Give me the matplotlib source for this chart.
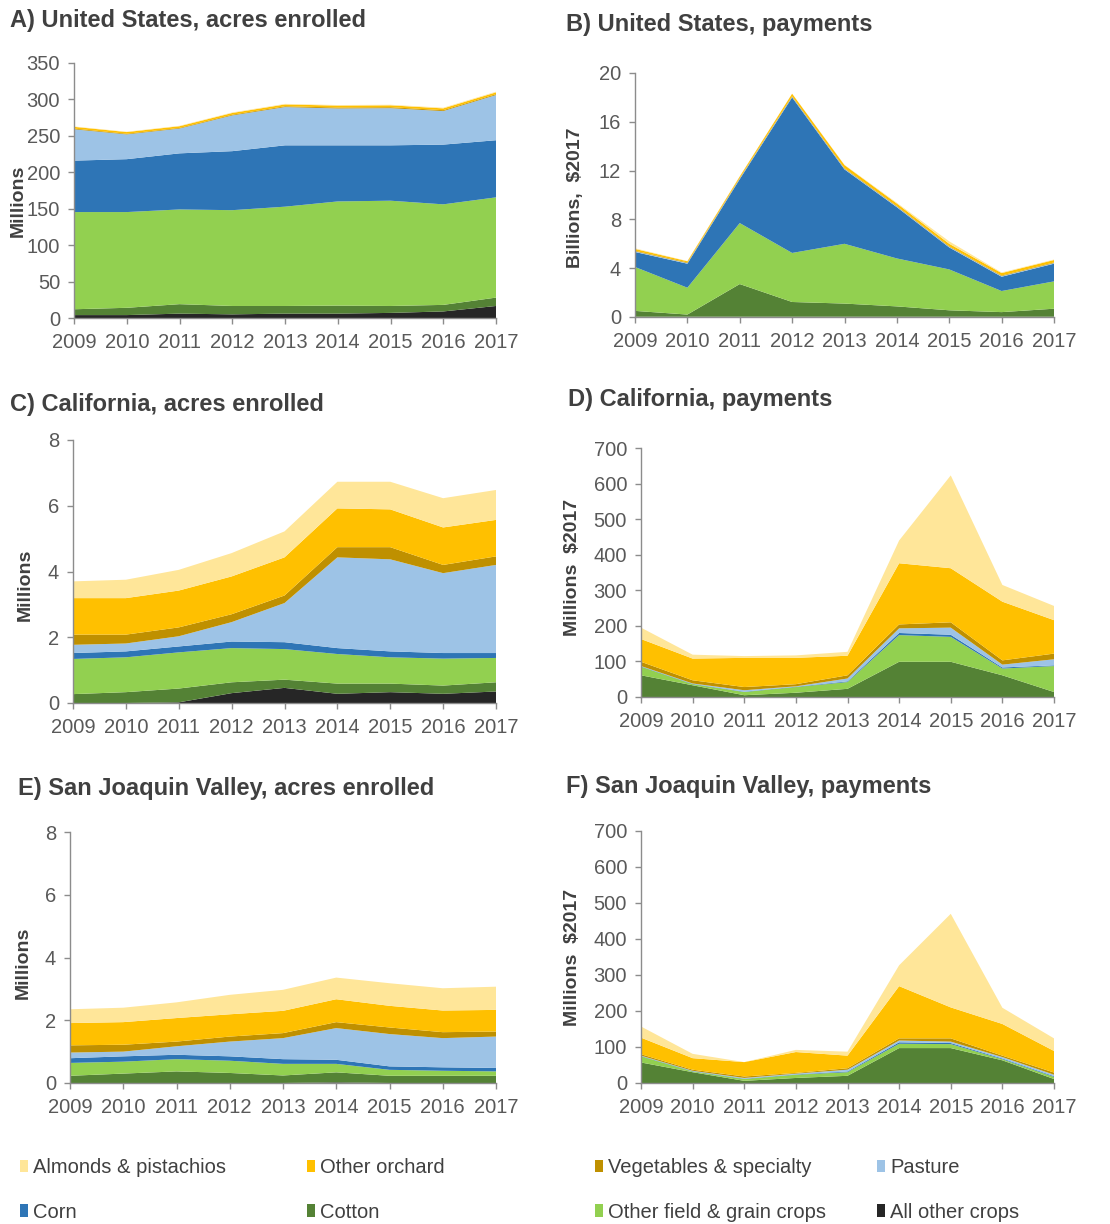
import matplotlib
matplotlib.use("Agg")
import matplotlib.pyplot as plt
from matplotlib.patches import Patch

plt.rcParams['font.family'] = ['Liberation Sans', 'DejaVu Sans']

years = [2009, 2010, 2011, 2012, 2013, 2014, 2015, 2016, 2017]

# Stack order, bottom to top
crops = ["All other crops", "Cotton", "Other field & grain crops", "Corn",
         "Pasture", "Vegetables & specialty", "Other orchard", "Almonds & pistachios"]
colors = ["#262626", "#548235", "#92D050", "#2E75B6",
          "#9DC3E6", "#BF9000", "#FFC000", "#FFE699"]

# A) United States, acres enrolled (millions)
us_acres_all_other = [4, 4, 6, 5, 6, 6, 7, 9, 16.5]
us_acres_cotton = [8, 10, 13, 11.5, 10.5, 11, 9.5, 9, 11.5]
us_acres_other_field = [133.4, 131.4, 130, 131.5, 136.3, 143, 144.5, 138, 137.6]
us_acres_corn = [70.6, 72.6, 77, 81, 84.2, 77, 76, 82, 78.4]
us_acres_pasture = [43, 34, 34, 49, 52.5, 50.6, 51, 46, 62]
us_acres_veg = [1.0, 0.9, 0.9, 1.0, 1.1, 1.3, 1.3, 1.2, 1.2]
us_acres_orchard = [2.4, 2.3, 2.3, 2.4, 2.5, 2.6, 2.6, 2.5, 2.5]
us_acres_almonds = [0.5, 0.5, 0.6, 0.7, 0.8, 0.8, 0.8, 0.9, 0.9]

# B) United States, payments (billions, $2017)
us_pay_all_other = [0.02] * 9
us_pay_cotton = [0.48, 0.18, 2.68, 1.21, 1.08, 0.85, 0.53, 0.38, 0.66]
us_pay_other_field = [3.6, 2.2, 5.0, 4.02, 4.9, 3.93, 3.35, 1.73, 2.24]
us_pay_corn = [1.23, 1.97, 3.6, 12.75, 6.1, 4.2, 1.8, 1.17, 1.45]
us_pay_pasture = [0.05] * 9
us_pay_veg = [0.05] * 9
us_pay_orchard = [0.15, 0.1, 0.12, 0.2, 0.25, 0.2, 0.2, 0.2, 0.2]
us_pay_almonds = [0.05, 0.02, 0.01, 0.01, 0.02, 0.06, 0.2, 0.05, 0.04]

# C) California, acres enrolled (millions)
ca_acres_all_other = [0, 0, 0.02, 0.3, 0.46, 0.28, 0.33, 0.28, 0.35]
ca_acres_cotton = [0.27, 0.33, 0.42, 0.33, 0.25, 0.31, 0.26, 0.25, 0.28]
ca_acres_other_field = [1.07, 1.06, 1.10, 1.04, 0.93, 0.90, 0.80, 0.82, 0.74]
ca_acres_corn = [0.18, 0.18, 0.18, 0.20, 0.21, 0.18, 0.18, 0.17, 0.15]
ca_acres_pasture = [0.25, 0.24, 0.31, 0.59, 1.19, 2.76, 2.80, 2.43, 2.68]
ca_acres_veg = [0.31, 0.27, 0.27, 0.24, 0.23, 0.31, 0.37, 0.25, 0.26]
ca_acres_orchard = [1.11, 1.11, 1.12, 1.15, 1.16, 1.18, 1.15, 1.14, 1.11]
ca_acres_almonds = [0.51, 0.56, 0.63, 0.71, 0.79, 0.81, 0.84, 0.89, 0.91]

# D) California, payments (millions, $2017)
ca_pay_all_other = [0] * 9
ca_pay_cotton = [61, 33, 5, 12, 23, 99, 99, 61, 14]
ca_pay_other_field = [24, 3, 9, 16, 19, 75, 70, 19, 73]
ca_pay_corn = [1, 1, 1, 1, 2, 6, 6, 3, 2]
ca_pay_pasture = [1, 1, 4, 1, 8, 13, 20, 8, 17]
ca_pay_veg = [12, 9, 9, 6, 9, 11, 15, 12, 16]
ca_pay_orchard = [64, 61, 82, 74, 55, 172, 152, 165, 94]
ca_pay_almonds = [32, 11, 5, 7, 11, 64, 261, 47, 40]

# E) San Joaquin Valley, acres enrolled (millions)
sjv_acres_all_other = [0, 0, 0, 0, 0, 0.02, 0, 0, 0]
sjv_acres_cotton = [0.23, 0.30, 0.37, 0.32, 0.24, 0.32, 0.23, 0.23, 0.23]
sjv_acres_other_field = [0.41, 0.38, 0.39, 0.39, 0.37, 0.27, 0.19, 0.16, 0.14]
sjv_acres_corn = [0.15, 0.17, 0.14, 0.14, 0.15, 0.13, 0.11, 0.11, 0.11]
sjv_acres_pasture = [0.18, 0.15, 0.27, 0.47, 0.67, 1.01, 1.03, 0.93, 1.0]
sjv_acres_veg = [0.23, 0.22, 0.15, 0.16, 0.16, 0.19, 0.21, 0.19, 0.16]
sjv_acres_orchard = [0.71, 0.72, 0.75, 0.71, 0.71, 0.73, 0.69, 0.69, 0.69]
sjv_acres_almonds = [0.44, 0.46, 0.50, 0.62, 0.67, 0.69, 0.72, 0.71, 0.74]

# F) San Joaquin Valley, payments (millions, $2017)
sjv_pay_all_other = [0] * 9
sjv_pay_cotton = [57, 30, 6, 14, 20, 97, 97, 63, 11]
sjv_pay_other_field = [17, 2, 5, 9, 10, 12, 11, 3, 6]
sjv_pay_corn = [1, 1, 1, 1, 2, 4, 3, 2, 2]
sjv_pay_pasture = [1, 1, 2, 2, 5, 5, 4, 4, 4]
sjv_pay_veg = [4, 3, 4, 2, 4, 6, 9, 4, 6]
sjv_pay_orchard = [46, 32, 40, 58, 35, 145, 86, 88, 60]
sjv_pay_almonds = [31, 12, 0, 6, 11, 58, 260, 45, 35]

panels = [
    dict(title="A) United States, acres enrolled", ylabel="Millions",
         series=[us_acres_all_other, us_acres_cotton, us_acres_other_field, us_acres_corn,
                 us_acres_pasture, us_acres_veg, us_acres_orchard, us_acres_almonds],
         ymax=350, ystep=50,
         rect=[74, 63, 496, 318], title_xy=(10, 20), ylab_xy=(-0.113, 0.46)),
    dict(title="B) United States, payments", ylabel="Billions,  $2017",
         series=[us_pay_all_other, us_pay_cotton, us_pay_other_field, us_pay_corn,
                 us_pay_pasture, us_pay_veg, us_pay_orchard, us_pay_almonds],
         ymax=20, ystep=4,
         rect=[635, 73, 1054, 317], title_xy=(566, 24), ylab_xy=(-0.121, 0.49)),
    dict(title="C) California, acres enrolled", ylabel="Millions",
         series=[ca_acres_all_other, ca_acres_cotton, ca_acres_other_field, ca_acres_corn,
                 ca_acres_pasture, ca_acres_veg, ca_acres_orchard, ca_acres_almonds],
         ymax=8, ystep=2,
         rect=[73, 440, 496, 703], title_xy=(10, 405), ylab_xy=(-0.092, 0.45)),
    dict(title="D) California, payments", ylabel="Millions  $2017",
         series=[ca_pay_all_other, ca_pay_cotton, ca_pay_other_field, ca_pay_corn,
                 ca_pay_pasture, ca_pay_veg, ca_pay_orchard, ca_pay_almonds],
         ymax=700, ystep=100,
         rect=[641, 448, 1054, 697], title_xy=(568, 400), ylab_xy=(-0.145, 0.52)),
    dict(title="E) San Joaquin Valley, acres enrolled", ylabel="Millions",
         series=[sjv_acres_all_other, sjv_acres_cotton, sjv_acres_other_field, sjv_acres_corn,
                 sjv_acres_pasture, sjv_acres_veg, sjv_acres_orchard, sjv_acres_almonds],
         ymax=8, ystep=2,
         rect=[70, 832, 496, 1083], title_xy=(18, 789), ylab_xy=(-0.090, 0.48)),
    dict(title="F) San Joaquin Valley, payments", ylabel="Millions  $2017",
         series=[sjv_pay_all_other, sjv_pay_cotton, sjv_pay_other_field, sjv_pay_corn,
                 sjv_pay_pasture, sjv_pay_veg, sjv_pay_orchard, sjv_pay_almonds],
         ymax=700, ystep=100,
         rect=[641, 831, 1054, 1083], title_xy=(566, 786), ylab_xy=(-0.145, 0.50)),
]

W, H = 1110, 1224
fig = plt.figure(figsize=(W / 100, H / 100), dpi=100)

axis_grey = "#8C8C8C"
tick_grey = "#595959"
text_dark = "#404040"

for p in panels:
    x0, y0, x1, y1 = p["rect"]
    ax = fig.add_axes([x0 / W, 1 - y1 / H, (x1 - x0) / W, (y1 - y0) / H])
    ax.stackplot(years, *p["series"], colors=colors, linewidth=0, antialiased=True)
    ax.set_xlim(years[0], years[-1])
    ax.set_ylim(0, p["ymax"])
    ax.set_xticks(years)
    ax.set_yticks(range(0, p["ymax"] + 1, p["ystep"]))
    for side in ("top", "right"):
        ax.spines[side].set_visible(False)
    for side in ("left", "bottom"):
        ax.spines[side].set_color(axis_grey)
        ax.spines[side].set_linewidth(1.0)
    ax.tick_params(axis="both", colors=axis_grey, labelcolor=tick_grey,
                   labelsize=14.5, length=4, width=1.0)
    ax.tick_params(axis="x", pad=6.5)
    ax.tick_params(axis="y", pad=6)
    ax.set_ylabel(p["ylabel"], fontsize=14, fontweight="bold", color=text_dark)
    ax.yaxis.set_label_coords(*p["ylab_xy"])
    ax.set_facecolor("none")
    tx, ty = p["title_xy"]
    fig.text(tx / W, 1 - ty / H, p["title"], fontsize=17, fontweight="bold",
             color=text_dark, ha="left", va="center")

# Legend: four columns of two rows each
legend_columns = [
    ["Almonds & pistachios", "Corn"],
    ["Other orchard", "Cotton"],
    ["Vegetables & specialty", "Other field & grain crops"],
    ["Pasture", "All other crops"],
]
col_x = [20, 307, 595, 877]
for names, cx in zip(legend_columns, col_x):
    handles = [Patch(facecolor=colors[crops.index(n)], edgecolor="none", label=n) for n in names]
    fig.legend(handles=handles, loc="center left",
               bbox_to_anchor=(cx / W, 1 - 1190 / H),
               frameon=False, fontsize=14.5, labelcolor=text_dark,
               handlelength=0.4, handleheight=0.6, handletextpad=0.25,
               labelspacing=1.28, borderpad=0, borderaxespad=0)

fig.savefig("out.png", dpi=100, facecolor="white")
